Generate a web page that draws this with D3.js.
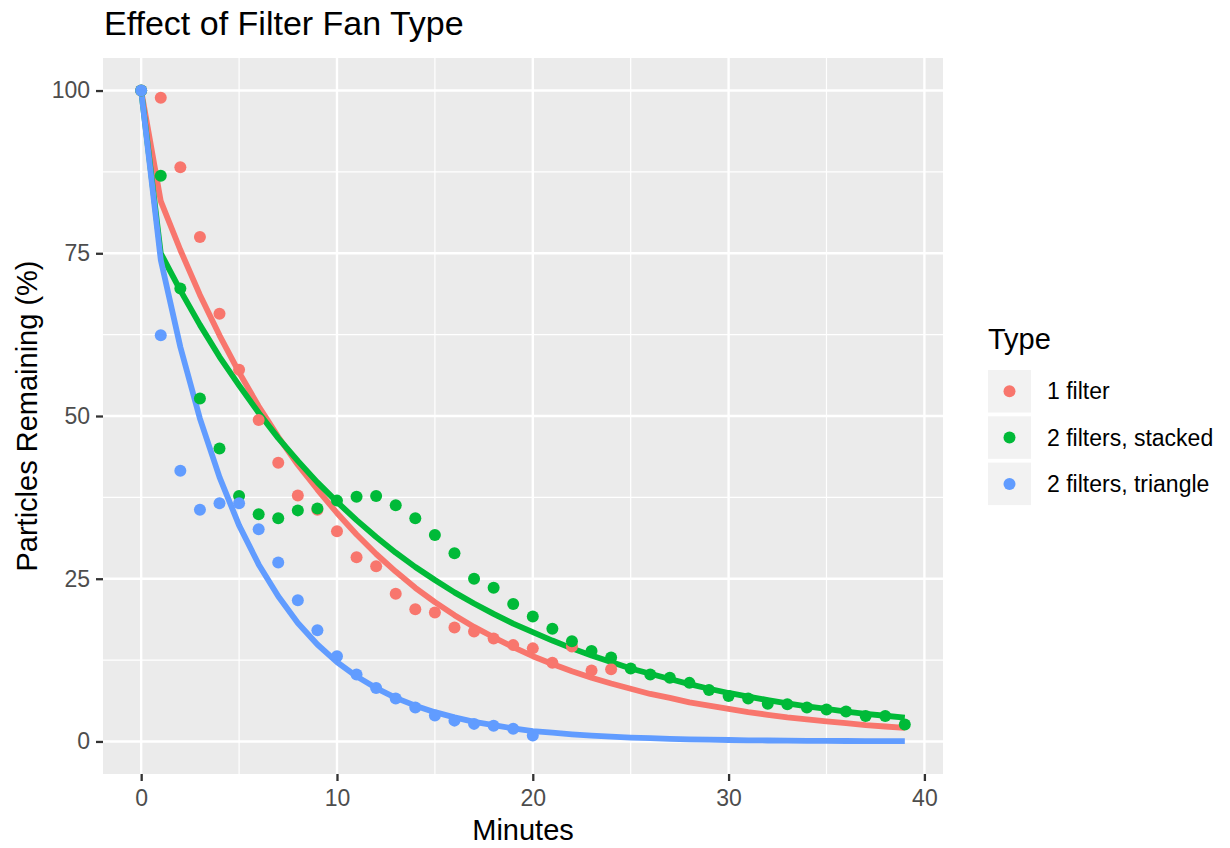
<!DOCTYPE html>
<html>
<head>
<meta charset="utf-8">
<script src="https://cdn.jsdelivr.net/npm/d3@7"></script>
<style>
body { margin: 0; background: #fff; }
svg { font-family: "Liberation Sans", Arial, sans-serif; }
</style>
</head>
<body>
<svg></svg>
<script>
// Series names and colours (ggplot default hues)
const types = ["1 filter", "2 filters, stacked", "2 filters, triangle"];
const colors = ["#F8766D", "#00BA38", "#619CFF"];

// Measured points, one value per minute starting at 0
const oneFilterPts = [100, 98.9, 88.2, 77.5, 65.7, 57.1, 49.4, 42.8, 37.8, 35.6, 32.3, 28.3, 26.9, 22.7, 20.3, 19.8, 17.5, 16.9, 15.8, 14.8, 14.3, 12.1, 14.6, 10.9, 11.1];
const stackedPts = [100, 86.9, 69.6, 52.7, 45.0, 37.7, 34.9, 34.3, 35.5, 35.8, 37.0, 37.6, 37.7, 36.3, 34.3, 31.7, 28.9, 25.0, 23.6, 21.1, 19.2, 17.3, 15.4, 13.9, 12.9, 11.2, 10.3, 9.8, 9.0, 7.9, 7.0, 6.6, 5.8, 5.7, 5.2, 4.9, 4.6, 3.9, 3.9, 2.6];
const trianglePts = [100, 62.4, 41.6, 35.6, 36.6, 36.6, 32.6, 27.5, 21.7, 17.1, 13.1, 10.3, 8.2, 6.6, 5.2, 4.0, 3.2, 2.7, 2.4, 1.95, 0.9];

// Fitted curves, minutes 0..39
const oneFilterFit = [100, 83.0, 75.5, 68.6, 62.4, 56.7, 51.5, 46.8, 42.5, 38.7, 35.1, 31.8, 28.8, 26.1, 23.6, 21.4, 19.4, 17.6, 16.0, 14.5, 13.1, 11.9, 10.8, 9.8, 8.9, 8.1, 7.3, 6.7, 6.0, 5.5, 5.0, 4.5, 4.1, 3.7, 3.4, 3.1, 2.8, 2.5, 2.3, 2.1];
const stackedFit = [100, 75.0, 69.3, 64.0, 59.1, 54.7, 50.5, 46.6, 43.1, 39.8, 36.8, 34.0, 31.4, 29.0, 26.8, 24.8, 22.9, 21.2, 19.6, 18.1, 16.8, 15.5, 14.3, 13.2, 12.2, 11.2, 10.4, 9.6, 8.8, 8.1, 7.45, 6.9, 6.35, 5.85, 5.4, 5.0, 4.6, 4.25, 3.95, 3.65];
const triangleFit = [100, 74.0, 60.6, 49.6, 40.6, 33.2, 27.2, 22.3, 18.2, 14.9, 12.2, 10.0, 8.2, 6.7, 5.5, 4.5, 3.7, 3.0, 2.5, 2.0, 1.6, 1.35, 1.1, 0.9, 0.74, 0.6, 0.5, 0.4, 0.33, 0.27, 0.22, 0.18, 0.15, 0.12, 0.1, 0.08, 0.07, 0.05, 0.04, 0.04];

// Axis breaks
const xTicks = [0, 10, 20, 30, 40];
const xMinor = [5, 15, 25, 35];
const yTicks = [0, 25, 50, 75, 100];
const yMinor = [12.5, 37.5, 62.5, 87.5];

const allPts = [oneFilterPts, stackedPts, trianglePts];
const allFits = [oneFilterFit, stackedFit, triangleFit];

const width = 1230;
const height = 848;
const margin = { top: 58, right: 287, bottom: 74, left: 103 };
const w = width - margin.left - margin.right;
const h = height - margin.top - margin.bottom;

const svg = d3.select("svg")
    .attr("width", width)
    .attr("height", height);

const g = svg.append("g")
    .attr("transform", `translate(${margin.left},${margin.top})`);

const x = d3.scaleLinear().domain([-1.95, 40.95]).range([0, w]);
const y = d3.scaleLinear().domain([-5, 105]).range([h, 0]);

// Panel background
g.append("rect")
    .attr("width", w)
    .attr("height", h)
    .attr("fill", "#EBEBEB");

// Minor grid
g.selectAll(".xminor").data(xMinor).enter().append("line")
    .attr("x1", d => x(d)).attr("x2", d => x(d))
    .attr("y1", 0).attr("y2", h)
    .attr("stroke", "#fff").attr("stroke-width", 1.2);
g.selectAll(".yminor").data(yMinor).enter().append("line")
    .attr("y1", d => y(d)).attr("y2", d => y(d))
    .attr("x1", 0).attr("x2", w)
    .attr("stroke", "#fff").attr("stroke-width", 1.2);

// Major grid
g.selectAll(".xmajor").data(xTicks).enter().append("line")
    .attr("x1", d => x(d)).attr("x2", d => x(d))
    .attr("y1", 0).attr("y2", h)
    .attr("stroke", "#fff").attr("stroke-width", 2.4);
g.selectAll(".ymajor").data(yTicks).enter().append("line")
    .attr("y1", d => y(d)).attr("y2", d => y(d))
    .attr("x1", 0).attr("x2", w)
    .attr("stroke", "#fff").attr("stroke-width", 2.4);

// Axes
const xAxis = g.append("g")
    .attr("transform", `translate(0,${h})`)
    .call(d3.axisBottom(x).tickValues(xTicks).tickSize(7).tickPadding(9).tickFormat(d3.format("d")));
const yAxis = g.append("g")
    .call(d3.axisLeft(y).tickValues(yTicks).tickSize(7).tickPadding(6).tickFormat(d3.format("d")));

[xAxis, yAxis].forEach(ax => {
    ax.select(".domain").remove();
    ax.selectAll(".tick line").attr("stroke", "#333333").attr("stroke-width", 2.3);
    ax.selectAll(".tick text")
        .attr("fill", "#4D4D4D")
        .style("font-size", "23px")
        .style("font-family", "'Liberation Sans', Arial, sans-serif");
});

// Fitted lines
const line = d3.line()
    .x((d, i) => x(i))
    .y(d => y(d));

allFits.forEach((fit, k) => {
    g.append("path")
        .datum(fit)
        .attr("d", line)
        .attr("fill", "none")
        .attr("stroke", colors[k])
        .attr("stroke-width", 5.8)
        .attr("stroke-linejoin", "round");
});

// Points
allPts.forEach((pts, k) => {
    g.selectAll(".pt" + k)
        .data(pts)
        .enter()
        .append("circle")
        .attr("cx", (d, i) => x(i))
        .attr("cy", d => y(d))
        .attr("r", 6)
        .attr("fill", colors[k]);
});

// Titles
svg.append("text")
    .attr("x", 104)
    .attr("y", 35)
    .style("font-size", "34px")
    .attr("fill", "#000")
    .text("Effect of Filter Fan Type");

svg.append("text")
    .attr("x", margin.left + w / 2)
    .attr("y", 840)
    .attr("text-anchor", "middle")
    .style("font-size", "29px")
    .attr("fill", "#000")
    .text("Minutes");

svg.append("text")
    .attr("transform", `translate(37,${margin.top + h / 2}) rotate(-90)`)
    .attr("text-anchor", "middle")
    .style("font-size", "29px")
    .attr("fill", "#000")
    .text("Particles Remaining (%)");

// Legend
const legend = svg.append("g").attr("transform", "translate(988,0)");

legend.append("text")
    .attr("x", 0)
    .attr("y", 349)
    .style("font-size", "29px")
    .attr("fill", "#000")
    .text("Type");

const keys = legend.selectAll(".key")
    .data(types)
    .enter()
    .append("g")
    .attr("transform", (d, i) => `translate(0,${370 + i * 46.3})`);

keys.append("rect")
    .attr("width", 43)
    .attr("height", 42.5)
    .attr("fill", "#F2F2F2");

keys.append("circle")
    .attr("cx", 21.5)
    .attr("cy", 21.3)
    .attr("r", 6)
    .attr("fill", (d, i) => colors[i]);

keys.append("text")
    .attr("x", 59)
    .attr("y", 21.3)
    .attr("dy", "0.35em")
    .style("font-size", "23px")
    .attr("fill", "#000")
    .text(d => d);
</script>
</body>
</html>
